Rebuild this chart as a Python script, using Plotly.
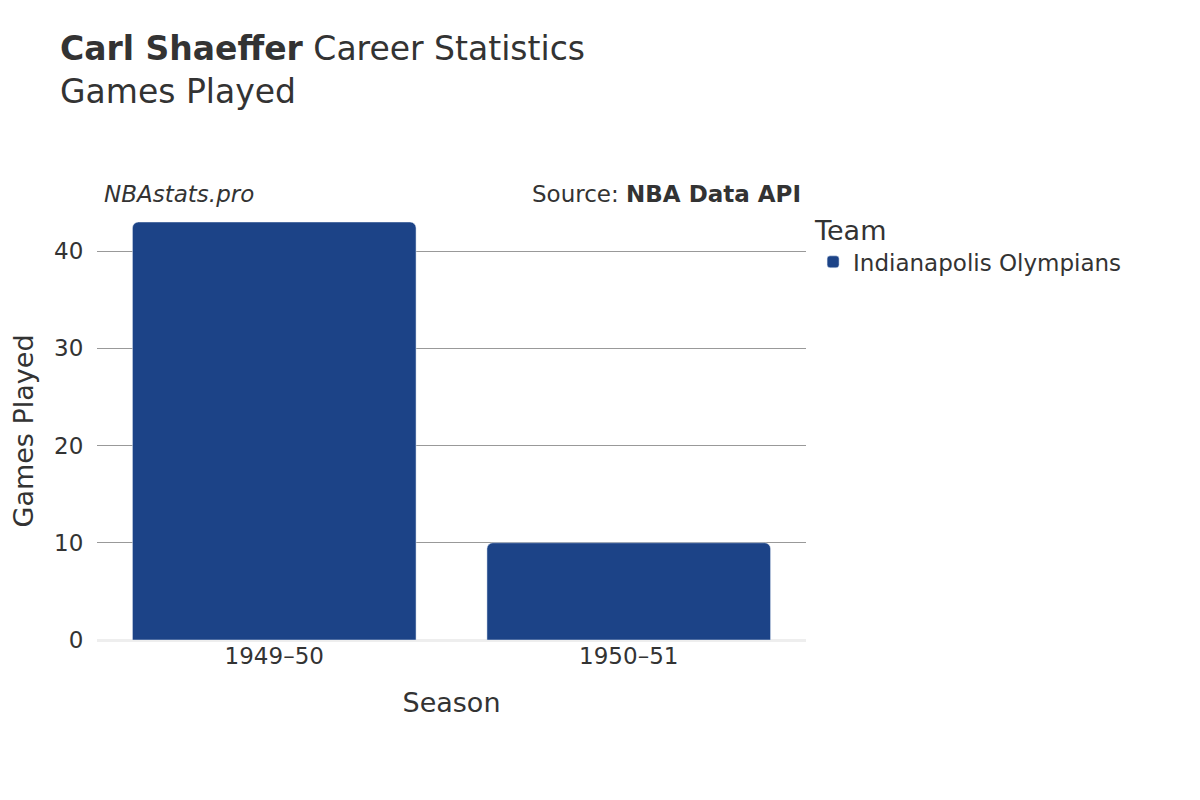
import plotly.graph_objects as go

# data
seasons = ["1949–50", "1950–51"]
games_played = [43, 10]
team = "Indianapolis Olympians"

font = "DejaVu Sans"
fig = go.Figure()
fig.add_trace(go.Bar(
    x=seasons, y=games_played, name=team, showlegend=True,
    marker=dict(color="#1c4387", cornerradius=6),
    width=0.8,
))

fig.update_layout(
    width=1200, height=800,
    paper_bgcolor="white", plot_bgcolor="white",
    font=dict(family=font, color="#333333", size=22),
    margin=dict(l=85, r=402, t=214, b=168),
    title=dict(
        text="<b>Carl Shaeffer</b> Career Statistics<br>Games Played",
        x=52 / 1200, xanchor="left", y=0.935, yanchor="top",
        font=dict(size=33, color="#333333"),
    ),
    xaxis=dict(title=dict(text="Season", font=dict(size=27), standoff=25), showgrid=False,
               tickfont=dict(size=23)),
    yaxis=dict(title=dict(text="Games Played", font=dict(size=27)),
               range=[0, 43], gridcolor="#999999", tickvals=[0, 10, 20, 30, 40],
               zeroline=True, zerolinecolor="#eeeeee", zerolinewidth=3,
               tickfont=dict(size=23), ticks="outside", ticklen=8, tickcolor="white"),
    legend=dict(title=dict(text="Team", font=dict(size=27)), x=1.01, y=1.04,
                yanchor="top", font=dict(size=23)),
    annotations=[
        dict(text="<i>NBAstats.pro</i>", x=0.007, xref="paper", y=1.03, yref="paper",
             xanchor="left", yanchor="bottom", showarrow=False, font=dict(size=23)),
        dict(text="Source: <b>NBA Data API</b>", x=0.996, xref="paper", y=1.03, yref="paper",
             xanchor="right", yanchor="bottom", showarrow=False, font=dict(size=23)),
    ],
    bargap=0.2,
)

fig.write_html("out.html")
